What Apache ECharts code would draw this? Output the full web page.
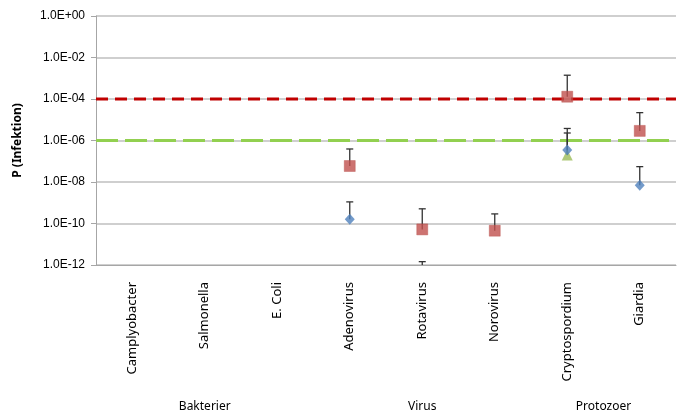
<!DOCTYPE html>
<html>
<head>
<meta charset="utf-8">
<script src="https://cdn.jsdelivr.net/npm/echarts@6/dist/echarts.min.js"></script>
<style>
  html, body { margin: 0; padding: 0; background: #fff; }
  #chart { width: 690px; height: 417px; }
</style>
</head>
<body>
<div id="chart"></div>
<script>
// Pathogens on the category axis
const categories = ['Camplyobacter', 'Salmonella', 'E. Coli', 'Adenovirus', 'Rotavirus', 'Norovirus', 'Cryptospordium', 'Giardia'];

// Groups shown beneath the category labels (name, first and last category index)
const groupNames = ['Bakterier', 'Virus', 'Protozoer'];
const groupStart = [0, 3, 6];
const groupEnd   = [2, 5, 7];

// Infection probabilities per pathogen (null = no value)
const squareValues   = [null, null, null, 5.9e-8, 5.2e-11, 4.5e-11, 1.29e-4, 2.9e-6];
const squareUpper    = [null, null, null, 3.9e-7, 5.1e-10, 2.9e-10, 1.4e-3, 2.2e-5];
const diamondValues  = [null, null, null, 1.6e-10, 2.0e-13, null, 3.5e-7, 6.9e-9];
const diamondUpper   = [null, null, null, 1.1e-9, 1.45e-12, null, 2.3e-6, 5.5e-8];
const triangleValues = [null, null, null, null, null, null, 2.0e-7, null];
const triangleUpper  = [null, null, null, null, null, null, 3.8e-6, null];

// Acceptance thresholds
const thresholdValues = [1e-4, 1e-6];
const thresholdColors = ['#C00000', '#92D050'];
const thresholdDashes = [[12, 7], [22, 7]];

// Y tick exponents
const yMinExp = -12;
const yMaxExp = 0;
const yStepExp = 2;

function fmtExp(v) {
  const e = Math.round(Math.log10(v));
  const sign = e < 0 ? '-' : '+';
  const a = Math.abs(e);
  return '1.0E' + sign + (a < 10 ? '0' + a : '' + a);
}

function pointData(vals) {
  return vals.map((v, i) => v == null ? null : [i, v]);
}
function errorData(vals, upper) {
  const out = [];
  vals.forEach((v, i) => { if (v != null && upper[i] != null) out.push([i, v, upper[i]]); });
  return out;
}

function errorSeries(vals, upper) {
  return {
    type: 'custom',
    clip: true,
    z: 2,
    silent: true,
    data: errorData(vals, upper),
    renderItem: function (params, api) {
      const p0 = api.coord([api.value(0), api.value(1)]);
      const p1 = api.coord([api.value(0), api.value(2)]);
      const hw = 3.5;
      const style = { stroke: '#333', lineWidth: 1.3 };
      return {
        type: 'group',
        children: [
          { type: 'line', shape: { x1: p0[0], y1: p0[1], x2: p1[0], y2: p1[1] }, style: style },
          { type: 'line', shape: { x1: p1[0] - hw, y1: p1[1], x2: p1[0] + hw, y2: p1[1] }, style: style }
        ]
      };
    }
  };
}

// Horizontal threshold lines across the full plot width
const thresholdSeries = {
  type: 'custom',
  z: 1,
  silent: true,
  data: thresholdValues.map((v, i) => [0, v, i]),
  renderItem: function (params, api) {
    const cs = params.coordSys;
    const y = api.coord([0, api.value(1)])[1];
    const k = api.value(2);
    return {
      type: 'line',
      shape: { x1: cs.x, y1: y, x2: cs.x + cs.width, y2: y },
      style: { stroke: thresholdColors[k], lineWidth: 3, lineDash: thresholdDashes[k] }
    };
  }
};

const chart = echarts.init(document.getElementById('chart'), null, { renderer: 'canvas' });

const gridLeft = 96, gridRight = 14, gridTop = 16, gridBottom = 152;

chart.setOption({
  animation: false,
  backgroundColor: '#fff',
  textStyle: { fontFamily: 'Noto Sans' },
  grid: { left: gridLeft, right: gridRight, top: gridTop, bottom: gridBottom, containLabel: false },
  xAxis: {
    type: 'category',
    data: categories,
    axisLine: { show: true, lineStyle: { color: '#a6a6a6', width: 1 } },
    axisTick: { show: false },
    splitLine: { show: false },
    axisLabel: {
      rotate: 90,
      margin: 17,
      color: '#000',
      fontSize: 13,
      fontFamily: 'Noto Sans',
      interval: 0
    }
  },
  yAxis: {
    type: 'log',
    logBase: 10,
    min: Math.pow(10, yMinExp),
    max: Math.pow(10, yMaxExp),
    interval: yStepExp,
    name: 'P (Infektion)',
    nameLocation: 'middle',
    nameGap: 72,
    nameTextStyle: { fontSize: 12, fontWeight: 'bold', color: '#000', fontFamily: 'Noto Sans' },
    axisLine: { show: true, lineStyle: { color: '#a6a6a6', width: 1 } },
    axisTick: { show: true, inside: false, length: 5, lineStyle: { color: '#a6a6a6' } },
    splitLine: { show: true, lineStyle: { color: '#bfbfbf', width: 1.5 } },
    minorTick: { show: false },
    minorSplitLine: { show: false },
    axisLabel: {
      margin: 11,
      color: '#000',
      fontSize: 12,
      fontFamily: 'Liberation Sans',
      formatter: fmtExp
    }
  },
  series: [
    thresholdSeries,
    errorSeries(squareValues, squareUpper),
    errorSeries(diamondValues, diamondUpper),
    errorSeries(triangleValues, triangleUpper),
    {
      name: 'Serie 1',
      type: 'scatter',
      z: 3,
      symbol: 'rect',
      symbolSize: 11,
      itemStyle: { color: '#C0504D', borderColor: '#B9514D', borderWidth: 0.5 },
      data: pointData(squareValues)
    },
    {
      name: 'Serie 2',
      type: 'scatter',
      z: 4,
      symbol: 'diamond',
      symbolSize: [10, 11],
      itemStyle: { color: '#4F81BD' },
      data: pointData(diamondValues)
    },
    {
      name: 'Serie 3',
      type: 'scatter',
      z: 3,
      symbol: 'triangle',
      symbolSize: 11,
      itemStyle: { color: '#9BBB59' },
      data: pointData(triangleValues)
    }
  ]
});

// Group captions centred under their categories
const groupY = 407;
chart.setOption({
  graphic: groupNames.map((name, g) => {
    const x0 = chart.convertToPixel({ xAxisIndex: 0 }, groupStart[g]);
    const x1 = chart.convertToPixel({ xAxisIndex: 0 }, groupEnd[g]);
    return {
      type: 'text',
      x: (x0 + x1) / 2,
      y: groupY,
      style: {
        text: name,
        fill: '#000',
        font: '12px "Noto Sans"',
        textAlign: 'center',
        textVerticalAlign: 'middle'
      }
    };
  })
});
</script>
</body>
</html>
